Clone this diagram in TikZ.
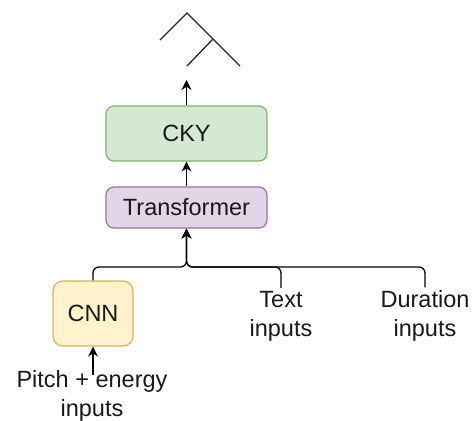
\documentclass[tikz,border=0pt]{standalone}
\usepackage{fontspec}
\setmainfont{Liberation Sans}
\usetikzlibrary{
    arrows.meta,
    positioning
}
\definecolor{ckyfill}{HTML}{D5E8D4}
\definecolor{ckydraw}{HTML}{82B366}
\definecolor{transfill}{HTML}{E1D5E7}
\definecolor{transdraw}{HTML}{9673A6}
\definecolor{cnnfill}{HTML}{FFF2CC}
\definecolor{cnndraw}{HTML}{D6B656}
\tikzset{block/.style={
        draw,
        rounded corners=8pt,
        line width=1.2pt,
        inner sep=0pt,
        minimum width=161pt,
        text=black!90
    }
}
\tikzset{inputlabel/.style={
        align=center,
        inner sep=3pt,
        text=black!90
    }
}

\begin{document}
\begin{tikzpicture}[
    x=1pt, y=-1pt,
    font=\fontsize{23.5}{29}\selectfont,
    connection/.style={-{Stealth[length=10pt,width=10pt]},line width=1.3pt,rounded corners=6pt},
    branch/.style={line width=1.3pt,draw=black!85}
    ]

    \path[use as bounding box] (0, 0) rectangle (472, 421);

    % tree on top
    \coordinate (tree-top) at (187, 13);
    \coordinate (tree-left) at (160, 40);
    \coordinate (tree-right) at (240, 66);
    \coordinate (tree-inner) at (213, 39);
    \coordinate (tree-mid) at (187, 66);
    \draw[branch] (tree-left) -- (tree-top) -- (tree-right);
    \draw[branch] (tree-inner) -- (tree-mid);
    \coordinate (to-tree) at (186.5, 80);

    \node[block, fill=ckyfill, draw=ckydraw, minimum height=55pt] at (186.5, 133.5) (cky) {CKY};
    \node[block, fill=transfill, draw=transdraw, minimum height=41pt] at (186.5, 207.5) (transformer) {Transformer};
    \node[block, fill=cnnfill, draw=cnndraw, rounded corners=10pt, minimum width=80pt, minimum height=65pt] at (93, 313.5) (cnn) {CNN};

    \node[inputlabel] at (281, 316) (text-in) {Text\\inputs};
    \node[inputlabel] at (425, 316) (duration-in) {Duration\\inputs};
    \node[inputlabel, inner sep=0pt] at (92, 396) (pitch-in) {Pitch + energy\\inputs};
    \coordinate (from-pitch) at (93, 375);
    \coordinate (bus) at (186.5, 267);

    \draw[connection] (cky) -- (to-tree);
    \draw[connection] (transformer) -- (cky);
    \draw[connection] (cnn.north) |- (bus) -- (transformer.south);
    \draw[connection] (text-in.north) |- (bus) -- (transformer.south);
    \draw[connection] (duration-in.north) |- (bus) -- (transformer.south);
    \draw[connection] (from-pitch) -- (cnn.south);

\end{tikzpicture}
\end{document}
